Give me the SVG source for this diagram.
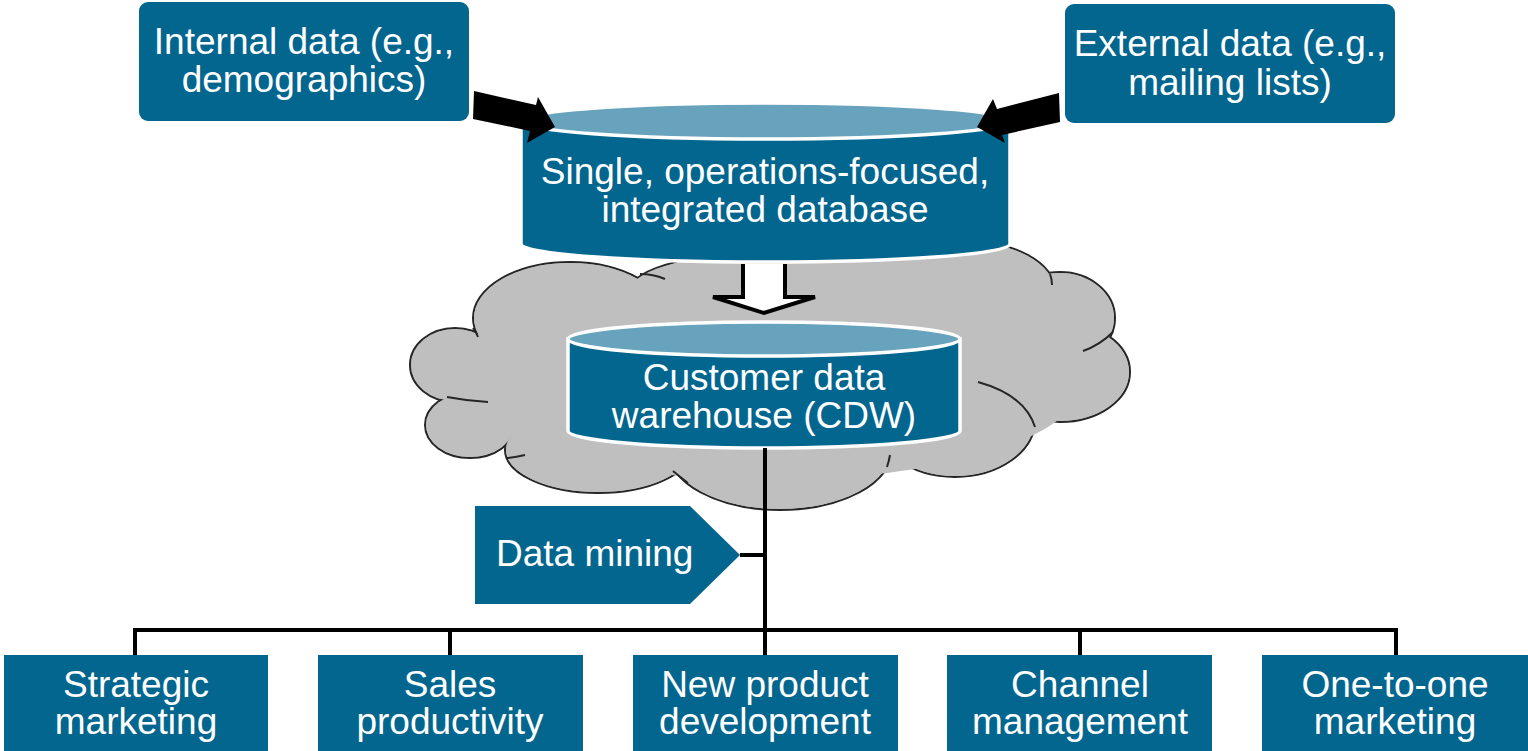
<svg xmlns="http://www.w3.org/2000/svg" width="1528" height="751" viewBox="0 0 1528 751">
<style>
.box{fill:#03668F}
.t{font-family:"Liberation Sans",Arial,sans-serif;font-size:37px;fill:#fff;text-anchor:middle}
.body{fill:#03668F;stroke:#fff;stroke-width:3.5}
.lid{fill:#67A3BD;stroke:#fff;stroke-width:3.5}
.ln{fill:none;stroke:#000;stroke-width:4}
.cl{fill:#BFBFBF;stroke:#262626;stroke-width:2}
.cf{fill:#BFBFBF}
.ci{fill:none;stroke:#262626;stroke-width:2}
</style>
<rect width="1528" height="751" fill="#fff"/>
<g id="cloud">
<g class="cl">
<ellipse cx="455" cy="365" rx="45" ry="37"/>
<ellipse cx="470" cy="425" rx="45" ry="33"/>
<ellipse cx="598" cy="450" rx="93" ry="43"/>
<ellipse cx="780" cy="450" rx="112" ry="60"/>
<ellipse cx="955" cy="420" rx="80" ry="57"/>
<ellipse cx="1060" cy="372" rx="70" ry="50"/>
<ellipse cx="1060" cy="318" rx="55" ry="46"/>
<ellipse cx="960" cy="290" rx="95" ry="50"/>
<ellipse cx="790" cy="290" rx="160" ry="40"/>
<ellipse cx="570" cy="318" rx="97" ry="56"/>
</g>
<g class="cf">
<ellipse cx="455" cy="365" rx="44" ry="36"/>
<ellipse cx="470" cy="425" rx="44" ry="32"/>
<ellipse cx="598" cy="450" rx="92" ry="42"/>
<ellipse cx="780" cy="450" rx="111" ry="59"/>
<ellipse cx="955" cy="420" rx="79" ry="56"/>
<ellipse cx="1060" cy="372" rx="69" ry="49"/>
<ellipse cx="1060" cy="318" rx="54" ry="45"/>
<ellipse cx="960" cy="290" rx="94" ry="49"/>
<ellipse cx="790" cy="290" rx="159" ry="39"/>
<ellipse cx="570" cy="318" rx="96" ry="55"/>
<ellipse cx="770" cy="385" rx="310" ry="95"/>
</g>
<g class="ci">
<path d="M640,274 Q653,274 665,279"/>
<path d="M473,328 Q476,332 478,337"/>
<path d="M447,397 Q468,401 488,402"/>
<path d="M507,458 Q516,457 525,455"/>
<path d="M673,471 Q680,477 688,483"/>
<path d="M887,467 Q889,461 890,455"/>
<path d="M978,382 Q1025,395 1035,427"/>
<path d="M1083,351 Q1100,345 1113,332"/>
<path d="M1050,274 Q1052,279 1052,285"/>
</g>
</g>
<g id="internal">
<rect class="box" x="139" y="2" width="330" height="119" rx="9"/>
<text class="t" x="304" y="54">Internal data (e.g.,</text>
<text class="t" x="304" y="92">demographics)</text>
</g>
<g id="external">
<rect class="box" x="1065" y="4" width="330" height="119" rx="9"/>
<text class="t" x="1230" y="56">External data (e.g.,</text>
<text class="t" x="1230" y="95">mailing lists)</text>
</g>
<g id="opsdb">
<path class="body" d="M521,121 V244 A244.5,18 0 0 0 1010,244 V121 Z"/>
<ellipse class="lid" cx="765.5" cy="121" rx="244.5" ry="18"/>
<text class="t" x="765" y="184">Single, operations-focused,</text>
<text class="t" x="765" y="222">integrated database</text>
</g>
<g id="cdw">
<path class="body" d="M568,339 V431 A196,17 0 0 0 960,431 V339 Z"/>
<ellipse class="lid" cx="764" cy="339" rx="196" ry="17"/>
<text class="t" x="764" y="390">Customer data</text>
<text class="t" x="764" y="428">warehouse (CDW)</text>
</g>
<g id="datamining">
<polygon class="box" points="475,506 690,506 740,555 690,604 475,604"/>
<text class="t" x="496" y="566" style="text-anchor:start">Data mining</text>
</g>
<g id="strategic">
<rect class="box" x="4" y="655" width="264" height="96"/>
<text class="t" x="136" y="697">Strategic</text>
<text class="t" x="136" y="734">marketing</text>
</g>
<g id="sales">
<rect class="box" x="318" y="655" width="265" height="96"/>
<text class="t" x="450" y="697">Sales</text>
<text class="t" x="450" y="734">productivity</text>
</g>
<g id="newproduct">
<rect class="box" x="633" y="655" width="265" height="96"/>
<text class="t" x="765" y="697">New product</text>
<text class="t" x="765" y="734">development</text>
</g>
<g id="channel">
<rect class="box" x="947" y="655" width="265" height="96"/>
<text class="t" x="1080" y="697">Channel</text>
<text class="t" x="1080" y="734">management</text>
</g>
<g id="onetoone">
<rect class="box" x="1262" y="655" width="266" height="96"/>
<text class="t" x="1395" y="697">One-to-one</text>
<text class="t" x="1395" y="734">marketing</text>
</g>
<g id="connectors">
<polygon points="474,91 536,105 538,97 555,127 527,143 530,131 473,119" fill="#000"/>
<polygon points="1059,93 997,109 993,99 977,127 1005,143 1002,135 1060,122" fill="#000"/>
<path d="M743,264 V297 H713 L764,313 L815,297 H785 V264" fill="#fff" stroke="#000" stroke-width="4" stroke-linejoin="miter"/>
<path class="ln" d="M765,448 V655 M740,555 H765 M135,655 V630 H1396 V655 M450,630 V655 M1080,630 V655"/>
</g>
</svg>
